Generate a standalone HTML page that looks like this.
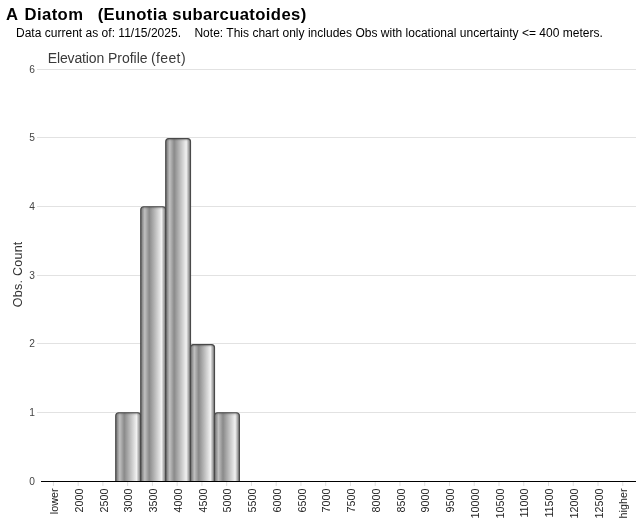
<!DOCTYPE html>
<html>
<head>
<meta charset="utf-8">
<title>Elevation Profile</title>
<style>
html,body{margin:0;padding:0;background:#fff;}
body{width:640px;height:523px;position:relative;overflow:hidden;font-family:"Liberation Sans",sans-serif;color:#000;}
#t1{position:absolute;left:6px;top:6px;font-size:16px;font-weight:bold;line-height:18px;white-space:pre;letter-spacing:0.37px;will-change:transform;transform:scaleX(1.04);transform-origin:0 0;}
#t2{position:absolute;left:15.6px;top:26.1px;font-size:12px;line-height:14px;white-space:pre;letter-spacing:0.015px;will-change:transform;}
svg{position:absolute;left:0;top:0;will-change:transform;}
svg text{font-family:"Liberation Sans",sans-serif;}
</style>
</head>
<body>
<div id="t1"><span style="margin-right:1.15px">A</span> Diatom<span style="letter-spacing:0.15px">   </span>(Eunotia subarcuatoides)</div>
<div id="t2">Data current as of: 11/15/2025.    Note: This chart only includes Obs with locational uncertainty &lt;= 400 meters.</div>
<svg width="640" height="523" viewBox="0 0 640 523">
<defs>
<linearGradient id="g" x1="0" y1="0" x2="1" y2="0">
<stop offset="0" stop-color="#6e6e6e"/>
<stop offset="0.16" stop-color="#c0c0c0"/>
<stop offset="0.34" stop-color="#8a8a8a"/>
<stop offset="0.83" stop-color="#f1f1f1"/>
<stop offset="0.94" stop-color="#9c9c9c"/>
<stop offset="1" stop-color="#707070"/>
</linearGradient>
<linearGradient id="ts" x1="0" y1="0" x2="0" y2="1">
<stop offset="0" stop-color="#444" stop-opacity="0.4"/>
<stop offset="0.45" stop-color="#555" stop-opacity="0.18"/>
<stop offset="1" stop-color="#666" stop-opacity="0"/>
</linearGradient>
<filter id="soft" x="-5%" y="-5%" width="110%" height="110%"><feGaussianBlur stdDeviation="0.22"/></filter>
</defs>

<g stroke="#e2e2e2" stroke-width="1">
<line x1="37" x2="636" y1="69.5" y2="69.5"/>
<line x1="37" x2="636" y1="137.5" y2="137.5"/>
<line x1="37" x2="636" y1="206.5" y2="206.5"/>
<line x1="37" x2="636" y1="275.5" y2="275.5"/>
<line x1="37" x2="636" y1="343.5" y2="343.5"/>
<line x1="37" x2="636" y1="412.5" y2="412.5"/>
</g>
<g filter="url(#soft)">
<path d="M115.75,482 V415.70 Q115.75,412.70 118.75,412.70 H137.75 Q140.75,412.70 140.75,415.70 V482 Z" fill="url(#g)"/>
<path d="M115.75,415.90 V415.70 Q115.75,412.70 118.75,412.70 H137.75 Q140.75,412.70 140.75,415.70 V415.90 Z" fill="url(#ts)"/>
<path d="M115.75,481 V415.70 Q115.75,412.70 118.75,412.70 H137.75 Q140.75,412.70 140.75,415.70 V481" fill="none" stroke="#484848" stroke-width="1.15"/>
<path d="M140.75,482 V209.75 Q140.75,206.75 143.75,206.75 H162.75 Q165.75,206.75 165.75,209.75 V482 Z" fill="url(#g)"/>
<path d="M140.75,209.95 V209.75 Q140.75,206.75 143.75,206.75 H162.75 Q165.75,206.75 165.75,209.75 V209.95 Z" fill="url(#ts)"/>
<path d="M140.75,481 V209.75 Q140.75,206.75 143.75,206.75 H162.75 Q165.75,206.75 165.75,209.75 V481" fill="none" stroke="#484848" stroke-width="1.15"/>
<path d="M165.75,482 V141.60 Q165.75,138.60 168.75,138.60 H187.50 Q190.50,138.60 190.50,141.60 V482 Z" fill="url(#g)"/>
<path d="M165.75,141.80 V141.60 Q165.75,138.60 168.75,138.60 H187.50 Q190.50,138.60 190.50,141.60 V141.80 Z" fill="url(#ts)"/>
<path d="M165.75,481 V141.60 Q165.75,138.60 168.75,138.60 H187.50 Q190.50,138.60 190.50,141.60 V481" fill="none" stroke="#484848" stroke-width="1.15"/>
<path d="M190.50,482 V347.60 Q190.50,344.60 193.50,344.60 H211.50 Q214.50,344.60 214.50,347.60 V482 Z" fill="url(#g)"/>
<path d="M190.50,347.80 V347.60 Q190.50,344.60 193.50,344.60 H211.50 Q214.50,344.60 214.50,347.60 V347.80 Z" fill="url(#ts)"/>
<path d="M190.50,481 V347.60 Q190.50,344.60 193.50,344.60 H211.50 Q214.50,344.60 214.50,347.60 V481" fill="none" stroke="#484848" stroke-width="1.15"/>
<path d="M214.50,482 V415.75 Q214.50,412.75 217.50,412.75 H236.40 Q239.40,412.75 239.40,415.75 V482 Z" fill="url(#g)"/>
<path d="M214.50,415.95 V415.75 Q214.50,412.75 217.50,412.75 H236.40 Q239.40,412.75 239.40,415.75 V415.95 Z" fill="url(#ts)"/>
<path d="M214.50,481 V415.75 Q214.50,412.75 217.50,412.75 H236.40 Q239.40,412.75 239.40,415.75 V481" fill="none" stroke="#484848" stroke-width="1.15"/>
</g>
<g stroke="#dedede" stroke-width="1">
<line x1="53.40" x2="53.40" y1="482" y2="486"/>
<line x1="78.16" x2="78.16" y1="482" y2="486"/>
<line x1="102.91" x2="102.91" y1="482" y2="486"/>
<line x1="127.66" x2="127.66" y1="482" y2="486"/>
<line x1="152.42" x2="152.42" y1="482" y2="486"/>
<line x1="177.17" x2="177.17" y1="482" y2="486"/>
<line x1="201.93" x2="201.93" y1="482" y2="486"/>
<line x1="226.69" x2="226.69" y1="482" y2="486"/>
<line x1="251.44" x2="251.44" y1="482" y2="486"/>
<line x1="276.19" x2="276.19" y1="482" y2="486"/>
<line x1="300.95" x2="300.95" y1="482" y2="486"/>
<line x1="325.70" x2="325.70" y1="482" y2="486"/>
<line x1="350.46" x2="350.46" y1="482" y2="486"/>
<line x1="375.21" x2="375.21" y1="482" y2="486"/>
<line x1="399.97" x2="399.97" y1="482" y2="486"/>
<line x1="424.72" x2="424.72" y1="482" y2="486"/>
<line x1="449.48" x2="449.48" y1="482" y2="486"/>
<line x1="474.23" x2="474.23" y1="482" y2="486"/>
<line x1="498.99" x2="498.99" y1="482" y2="486"/>
<line x1="523.75" x2="523.75" y1="482" y2="486"/>
<line x1="548.50" x2="548.50" y1="482" y2="486"/>
<line x1="573.25" x2="573.25" y1="482" y2="486"/>
<line x1="598.01" x2="598.01" y1="482" y2="486"/>
<line x1="622.76" x2="622.76" y1="482" y2="486"/>
</g>
<line x1="41" x2="636" y1="481.5" y2="481.5" stroke="#000" stroke-width="1.15"/>
<g font-size="10.2" fill="#444" text-anchor="end">
<text x="35" y="73.05">6</text>
<text x="35" y="141.05">5</text>
<text x="35" y="210.05">4</text>
<text x="35" y="279.05">3</text>
<text x="35" y="347.05">2</text>
<text x="35" y="416.05">1</text>
<text x="35" y="484.95">0</text>
</g>
<g font-size="14" fill="#3a3a3a"><text x="47.8" y="62.6" letter-spacing="-0.15">Elevation</text><text x="107.9" y="62.6">Profile</text><text x="150.9" y="62.6" letter-spacing="0.4">(feet)</text></g>
<text transform="translate(22.2,274.3) rotate(-90)" text-anchor="middle" font-size="12.5" letter-spacing="0.25" fill="#333">Obs. Count</text>
<g font-size="10.75" fill="#222" text-anchor="end">
<text transform="translate(58.10,488.5) rotate(-90)">lower</text>
<text transform="translate(82.86,488.5) rotate(-90)">2000</text>
<text transform="translate(107.61,488.5) rotate(-90)">2500</text>
<text transform="translate(132.36,488.5) rotate(-90)">3000</text>
<text transform="translate(157.12,488.5) rotate(-90)">3500</text>
<text transform="translate(181.87,488.5) rotate(-90)">4000</text>
<text transform="translate(206.63,488.5) rotate(-90)">4500</text>
<text transform="translate(231.38,488.5) rotate(-90)">5000</text>
<text transform="translate(256.14,488.5) rotate(-90)">5500</text>
<text transform="translate(280.89,488.5) rotate(-90)">6000</text>
<text transform="translate(305.65,488.5) rotate(-90)">6500</text>
<text transform="translate(330.40,488.5) rotate(-90)">7000</text>
<text transform="translate(355.16,488.5) rotate(-90)">7500</text>
<text transform="translate(379.91,488.5) rotate(-90)">8000</text>
<text transform="translate(404.67,488.5) rotate(-90)">8500</text>
<text transform="translate(429.42,488.5) rotate(-90)">9000</text>
<text transform="translate(454.18,488.5) rotate(-90)">9500</text>
<text transform="translate(478.93,488.5) rotate(-90)">10000</text>
<text transform="translate(503.69,488.5) rotate(-90)">10500</text>
<text transform="translate(528.45,488.5) rotate(-90)">11000</text>
<text transform="translate(553.20,488.5) rotate(-90)">11500</text>
<text transform="translate(577.96,488.5) rotate(-90)">12000</text>
<text transform="translate(602.71,488.5) rotate(-90)">12500</text>
<text transform="translate(627.47,488.5) rotate(-90)">higher</text>
</g>
</svg>
</body>
</html>
